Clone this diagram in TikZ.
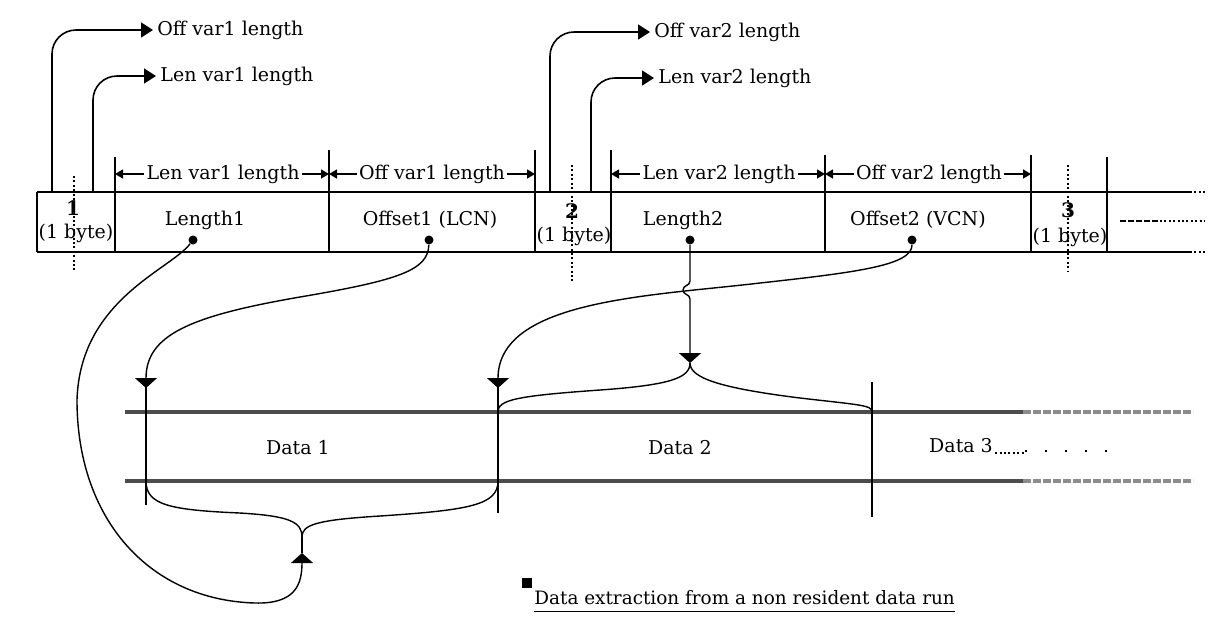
\documentclass[tikz,border=0pt]{standalone}
\usepackage{fontspec}
\setmainfont{DejaVu Serif}
\usetikzlibrary{arrows.meta, positioning, calc}
\tikzset{
    base/.style = {font=\fontsize{9.5}{11}\selectfont, inner sep=1pt},
    % Components
    label/.style   = {base},
    bytenum/.style = {base, font=\fontsize{10}{11}\selectfont\bfseries},
    toplabel/.style= {base, anchor=west, inner sep=2pt},
    pindot/.style  = {circle, fill=black, inner sep=0pt, minimum size=4.5pt},
    bullet/.style  = {rectangle, fill=black, inner sep=0pt, minimum size=5pt},
    % Edges and annotations
    rule/.style   = {line width=0.9pt},
    band/.style   = {line width=1.6pt, black!70},
    guide/.style  = {line width=0.6pt, dash pattern=on 1pt off 1.2pt},
    lead/.style   = {line width=0.8pt, rounded corners=12pt, -{Triangle[length=6pt, width=7.5pt]}},
    dim/.style    = {line width=0.7pt, -{Triangle[length=4pt, width=4.5pt]}},
    link/.style   = {line width=0.7pt},
    linkarrow/.style = {link, -{Triangle[length=5pt, width=11pt]}}
}

\begin{document}
\begin{tikzpicture}[x=0.5pt, y=-0.5pt]
    \useasboundingbox (0,0) rectangle (1208,623);

    % Record row (top)
    \coordinate (recNW) at (37,192);
    \coordinate (recSW) at (37,252);
    \coordinate (recNE) at (1190,192);
    \coordinate (recSE) at (1190,252);
    \coordinate (recNEend) at (1208,192);
    \coordinate (recSEend) at (1208,252);
    \draw [rule] (recNW) -- (recNE);
    \draw [rule] (recSW) -- (recSE);
    \draw [rule] (recNW) -- (recSW);
    \draw [guide] (recNE) -- (recNEend);
    \draw [guide] (recSE) -- (recSEend);

    % Cell separators
    \foreach \x/\top/\name in {115/157/sA, 329/150/sB, 535/150/sC, 611/150/sD,
                               825/155/sE, 1031/155/sF, 1107/157/sG}
        \draw [rule] (\x,\top) coordinate (\name) -- (\x,252);

    % Dotted middles of the header bytes
    \draw [guide] (74,176) -- (74,272);
    \draw [guide] (572,165) -- (572,282);
    \draw [guide] (1068,165) -- (1068,272);

    % Cell texts
    \node (b1num)  [bytenum] at (73,208)  {1};
    \node (b1size) [label] at (76,233)  {(1 byte)};
    \node (len1)   [label] at (205,220) {Length1};
    \node (off1)   [label] at (430,220) {Offset1 (LCN)};
    \node (b2num)  [bytenum] at (572,211) {2};
    \node (b2size) [label] at (574,236) {(1 byte)};
    \node (len2)   [label] at (683,220) {Length2};
    \node (off2)   [label] at (918,220) {Offset2 (VCN)};
    \node (b3num)  [bytenum] at (1068,210) {3};
    \node (b3size) [label] at (1070,237) {(1 byte)};

    % Continuation in the last cell
    \coordinate (moreA) at (1120,221);
    \coordinate (moreB) at (1160,221);
    \coordinate (moreC) at (1205,221);
    \draw [line width=0.9pt, dash pattern=on 3pt off 1pt] (moreA) -- (moreB);
    \draw [guide] (moreB) -- (moreC);

    % Pick-up dots
    \node (len1dot) [pindot] at (193,240) {};
    \node (off1dot) [pindot] at (429,240) {};
    \node (len2dot) [pindot] at (690,240) {};
    \node (off2dot) [pindot] at (912,240) {};

    % Field width dimensions
    \node (dimLen1) [label] at (223,174) {Len var1 length};
    \node (dimOff1) [label] at (432,174) {Off var1 length};
    \node (dimLen2) [label] at (719,174) {Len var2 length};
    \node (dimOff2) [label] at (929,174) {Off var2 length};
    \draw [dim] (dimLen1) -- (dimLen1 -| sA);
    \draw [dim] (dimLen1) -- (dimLen1 -| sB);
    \draw [dim] (dimOff1) -- (dimOff1 -| sB);
    \draw [dim] (dimOff1) -- (dimOff1 -| sC);
    \draw [dim] (dimLen2) -- (dimLen2 -| sD);
    \draw [dim] (dimLen2) -- (dimLen2 -| sE);
    \draw [dim] (dimOff2) -- (dimOff2 -| sE);
    \draw [dim] (dimOff2) -- (dimOff2 -| sF);

    % Header nibbles (top labels)
    \node (offVar1) [toplabel] at (153,30) {Off var1 length};
    \node (lenVar1) [toplabel] at (156,76) {Len var1 length};
    \node (offVar2) [toplabel] at (650,32) {Off var2 length};
    \node (lenVar2) [toplabel] at (654,78) {Len var2 length};
    \coordinate (tapOff1) at (52,192);
    \coordinate (tapLen1) at (93,192);
    \coordinate (tapOff2) at (550,192);
    \coordinate (tapLen2) at (591,192);
    \draw [lead] (tapOff1) |- (offVar1.west);
    \draw [lead] (tapLen1) |- (lenVar1.west);
    \draw [lead] (tapOff2) |- (offVar2.west);
    \draw [lead] (tapLen2) |- (lenVar2.west);

    % Data run (bottom)
    \coordinate (runNW) at (125,412);
    \coordinate (runSW) at (125,481);
    \coordinate (runNM) at (1023,412);
    \coordinate (runSM) at (1023,481);
    \coordinate (runNE) at (1193,412);
    \coordinate (runSE) at (1193,481);
    \draw [band] (runNW) -- (runNM);
    \draw [band] (runSW) -- (runSM);
    \draw [band, black!45, dash pattern=on 4pt off 1pt] (runNM) -- (runNE);
    \draw [band, black!45, dash pattern=on 4pt off 1pt] (runSM) -- (runSE);

    % Run boundaries
    \coordinate (d1in) at (146,388);
    \coordinate (d2in) at (498,388);
    \draw [rule, line width=0.7pt] (146,378) -- (146,505);
    \draw [rule, line width=0.7pt] (498,378) -- (498,513);
    \draw [rule, line width=0.7pt] (872,382) -- (872,517);

    \node (data1) [label] at (298,448) {Data 1};
    \node (data2) [label] at (680,448) {Data 2};
    \node (data3) [label] at (961,446) {Data 3};
    \coordinate (trailA) at (1025,451);
    \coordinate (trailB) at (1125,451);
    \draw [guide] (data3.base east) -- (data3.base east -| trailA);
    \draw [line width=0.7pt, dash pattern=on 1pt off 9pt] (trailA) -- (trailB);

    % --- Connections ---

    % Offset1 -> start of Data 1
    \draw [linkarrow] (off1dot) .. controls (428,270) and (400,280) .. (300,297)
                                .. controls (190,316) and (146,335) .. (d1in);

    % Offset2 -> start of Data 2
    \draw [linkarrow] (off2dot) .. controls (912,265) and (860,272) .. (760,283)
                                .. controls (650,296) and (498,300) .. (d2in);

    % Length2 -> width of Data 2 (hops over the offset line)
    \coordinate (brace2) at (690,363);
    \draw [linkarrow] (len2dot) -- (690,281)
        .. controls (690,286) and (683,285) .. (683,290)
        .. controls (683,295) and (690,294) .. (690,299) -- (brace2);

    % Brace over Data 2
    \draw [link] (brace2) .. controls (690,378) and (670,385) .. (600,390)
                          .. controls (515,396) and (498,400) .. (498,412);
    \draw [link] (brace2) .. controls (690,378) and (720,388) .. (800,398)
                          .. controls (860,405) and (872,405) .. (872,412);

    % Brace under Data 1
    \coordinate (brace1) at (302,537);
    \coordinate (brace1in) at (302,553);
    \draw [link] (146,481) .. controls (146,505) and (170,510) .. (240,513)
                           .. controls (290,516) and (302,522) .. (brace1);
    \draw [link] (498,481) .. controls (498,505) and (470,510) .. (380,516)
                           .. controls (315,520) and (302,525) .. (brace1);
    \draw [link] (brace1) -- (brace1in);

    % Length1 -> width of Data 1
    \draw [linkarrow] (len1dot) .. controls (170,270) and (80,300) .. (77,400)
                                .. controls (77,520) and (150,600) .. (255,603)
                                .. controls (295,604) and (302,585) .. (brace1in);

    % Caption
    \node (bullet) [bullet] at (527,583) {};
    \node (caption) [base, font=\fontsize{9.2}{11}\selectfont, anchor=west, inner sep=0pt] at (534,598) {Data extraction from a non resident data run};
    \draw [rule] ([yshift=-3pt]caption.south west) -- ([yshift=-3pt]caption.south east);

\end{tikzpicture}
\end{document}
